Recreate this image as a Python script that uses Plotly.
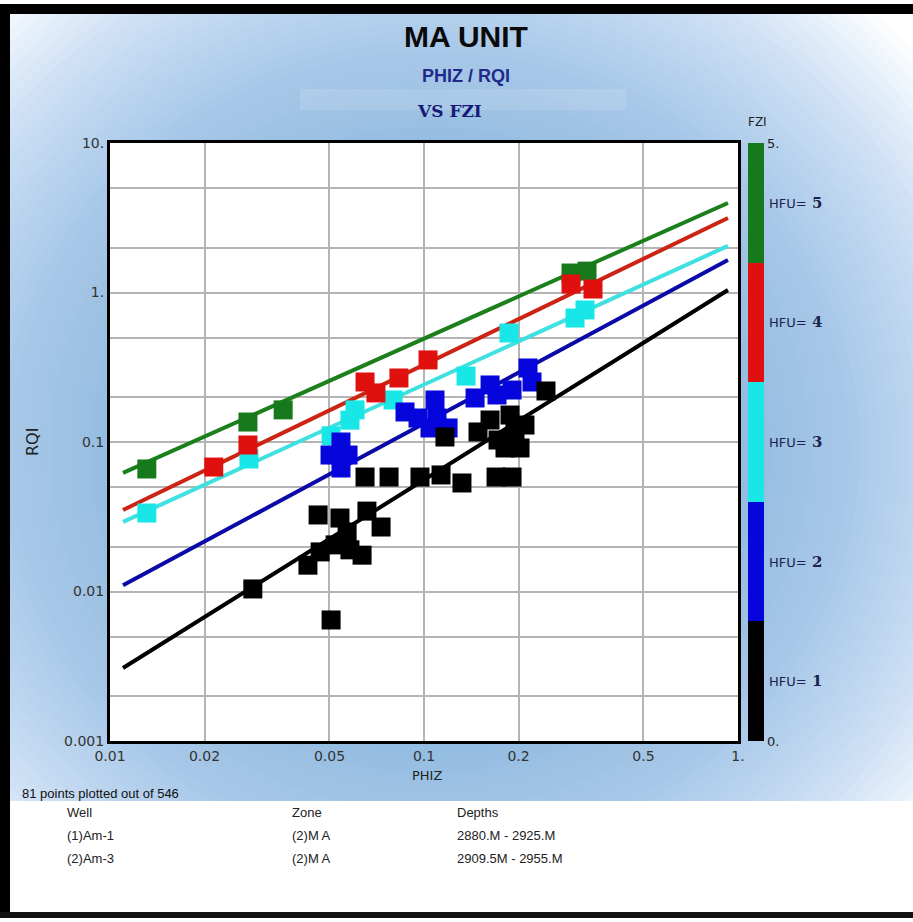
import plotly.graph_objects as go

# ---------------- DATA ----------------
fzi_range = [0, 5]
hfu_classes = [1, 2, 3, 4, 5]
hfu_fzi_mid = [0.5, 1.5, 2.5, 3.5, 4.5]

# HFU = 1 (black)
phiz_hfu1 = [0.0285, 0.0506, 0.0460, 0.0540, 0.0569, 0.0658, 0.0730, 0.0427, 0.0467,
             0.0521, 0.0581, 0.0635, 0.0649, 0.0774, 0.0971, 0.1133, 0.1321, 0.1696,
             0.1907, 0.1166, 0.1486, 0.1623, 0.1721, 0.1879, 0.1949, 0.2022, 0.1811,
             0.2097, 0.2446]
rqi_hfu1 = [0.0104, 0.00645, 0.0325, 0.0310, 0.0250, 0.0345, 0.0270, 0.0150, 0.0184,
            0.0205, 0.0190, 0.0175, 0.0583, 0.0583, 0.0583, 0.0602, 0.0532, 0.0583,
            0.0583, 0.1080, 0.1167, 0.1403, 0.1031, 0.1515, 0.1203, 0.0912, 0.0912,
            0.1299, 0.2194]

# HFU = 2 (blue)
phiz_hfu2 = [0.0544, 0.0502, 0.0573, 0.0544, 0.0870, 0.0957, 0.1084, 0.1100, 0.1193,
             0.1045, 0.1454, 0.1623, 0.1708, 0.1907, 0.2144, 0.2208]
rqi_hfu2 = [0.100, 0.0818, 0.0818, 0.0670, 0.1588, 0.1447, 0.1910, 0.1447, 0.1241,
            0.1241, 0.1970, 0.2407, 0.2063, 0.2227, 0.3126, 0.2520]

# HFU = 3 (cyan)
phiz_hfu3 = [0.0131, 0.0277, 0.0506, 0.0581, 0.0603, 0.0797, 0.1361, 0.1865, 0.3027, 0.3256]
rqi_hfu3 = [0.0335, 0.0770, 0.1100, 0.1400, 0.1640, 0.1910, 0.2760, 0.5360, 0.6750, 0.7640]

# HFU = 4 (red)
phiz_hfu4 = [0.0214, 0.0275, 0.0649, 0.0703, 0.0832, 0.1030, 0.2939, 0.3453]
rqi_hfu4 = [0.0680, 0.0955, 0.2520, 0.2130, 0.2680, 0.3540, 1.140, 1.055]

# HFU = 5 (green)
phiz_hfu5 = [0.0131, 0.0275, 0.0356, 0.2939, 0.3305]
rqi_hfu5 = [0.0660, 0.1360, 0.1640, 1.350, 1.390]

# FZI boundary lines (start / end)
line_phiz = [0.0110, 0.929]
line_rqi_hfu1 = [0.00308, 1.04]
line_rqi_hfu2 = [0.0110, 1.65]
line_rqi_hfu3 = [0.0292, 2.05]
line_rqi_hfu4 = [0.0351, 3.15]
line_rqi_hfu5 = [0.0621, 3.97]

x_tick_vals = [0.01, 0.02, 0.05, 0.1, 0.2, 0.5, 1]
x_tick_text = ["0.01", "0.02", "0.05", "0.1", "0.2", "0.5", "1."]
y_tick_vals = [0.001, 0.002, 0.005, 0.01, 0.02, 0.05, 0.1, 0.2, 0.5, 1, 2, 5, 10]
y_tick_text = ["0.001", "", "", "0.01", "", "", "0.1", "", "", "1.", "", "", "10."]

wells = ["(1)Am-1", "(2)Am-3"]
zones = ["(2)M A", "(2)M A"]
depths = ["2880.M - 2925.M", "2909.5M - 2955.M"]
points_plotted = 81
points_total = 546

# ---------------- STYLE ----------------
W, H = 913, 922
PL, PR, PT, PB = 110, 738, 143, 741


def X(px):
    return (px - PL) / (PR - PL)


def Y(py):
    return (PB - py) / (PB - PT)


marker_colors = ["#000000", "#0505dc", "#19e6e6", "#e0100f", "#167a1c"]
line_colors = ["#000000", "#0a0aa8", "#3fe0e0", "#cc2414", "#1b7f1b"]
colorscale = []
for i, c in enumerate(marker_colors):
    colorscale.append([i / 5, c])
    colorscale.append([(i + 1) / 5, c])

series = [
    (phiz_hfu1, rqi_hfu1, line_rqi_hfu1),
    (phiz_hfu2, rqi_hfu2, line_rqi_hfu2),
    (phiz_hfu3, rqi_hfu3, line_rqi_hfu3),
    (phiz_hfu4, rqi_hfu4, line_rqi_hfu4),
    (phiz_hfu5, rqi_hfu5, line_rqi_hfu5),
]

fig = go.Figure()

# lines
for k, (px_, py_, lr) in enumerate(series):
    fig.add_trace(go.Scatter(x=line_phiz, y=lr, mode="lines",
                             line=dict(color=line_colors[k], width=4),
                             hoverinfo="skip", showlegend=False))

# markers (draw order: green, cyan, red, blue, black)
for k in [4, 2, 3, 1, 0]:
    px_, py_, _ = series[k]
    fig.add_trace(go.Scatter(
        x=px_, y=py_, mode="markers",
        marker=dict(symbol="square", size=19,
                    color=[hfu_fzi_mid[k]] * len(px_), coloraxis="coloraxis",
                    line=dict(width=0)),
        showlegend=False))

shapes = []
# background radial-ish gradient
cx, cy = 430, 450
for i in range(40):
    r = 640 - i * 10
    shapes.append(dict(type="circle", xref="paper", yref="paper", layer="below",
                       x0=X(cx - r), x1=X(cx + r), y0=Y(cy + r * 0.95), y1=Y(cy - r * 0.95),
                       fillcolor="rgba(110,160,232,0.034)", line=dict(width=0)))
# white plot area
shapes.append(dict(type="rect", xref="paper", yref="paper", layer="below",
                   x0=0, x1=1, y0=0, y1=1, fillcolor="white", line=dict(width=0)))
# light box behind VS FZI
shapes.append(dict(type="rect", xref="paper", yref="paper", layer="below",
                   x0=X(300), x1=X(626), y0=Y(110), y1=Y(89),
                   fillcolor="rgba(255,255,255,0.12)", line=dict(width=0)))
# white bottom table area
shapes.append(dict(type="rect", xref="paper", yref="paper", layer="below",
                   x0=X(0), x1=X(913), y0=Y(922), y1=Y(801),
                   fillcolor="white", line=dict(width=0)))
# white top strip
shapes.append(dict(type="rect", xref="paper", yref="paper", layer="below",
                   x0=X(0), x1=X(913), y0=Y(4), y1=Y(0),
                   fillcolor="white", line=dict(width=0)))
# black frame pieces
shapes.append(dict(type="rect", xref="paper", yref="paper", layer="above",
                   x0=X(0), x1=X(10), y0=Y(918), y1=Y(4),
                   fillcolor="black", line=dict(width=0)))
shapes.append(dict(type="rect", xref="paper", yref="paper", layer="above",
                   x0=X(0), x1=X(913), y0=Y(14), y1=Y(4),
                   fillcolor="black", line=dict(width=0)))
shapes.append(dict(type="rect", xref="paper", yref="paper", layer="above",
                   x0=X(0), x1=X(913), y0=Y(918), y1=Y(912),
                   fillcolor="#111111", line=dict(width=0)))

ann = []


def txt(text, px, py, size, color="#222", family="Liberation Sans", xanchor="center",
        weight="normal", angle=0):
    ann.append(dict(text=text, x=X(px), y=Y(py), xref="paper", yref="paper",
                    showarrow=False, xanchor=xanchor, yanchor="middle", textangle=angle,
                    font=dict(size=size, color=color, family=family, weight=weight)))


txt("MA UNIT", 466, 37, 30, "#0a0a0a", weight="bold")
txt("PHIZ / RQI", 466, 76, 18, "#1f2a8a", weight="bold")
txt("VS FZI", 449, 111, 17, "#151a78", family="DejaVu Serif", weight="bold")
txt("FZI", 757, 122, 12, "#222", family="DejaVu Sans")
txt("RQI", 32, 442, 16, "#222", family="DejaVu Sans", angle=-90)
txt("PHIZ", 427, 775, 13, "#222", family="DejaVu Sans")
txt(f"{points_plotted} points plotted out of {points_total}", 20, 793, 13, "#111",
    family="Liberation Sans", xanchor="left")
txt("Well", 65, 812, 13, "#222", xanchor="left")
txt("Zone", 290, 812, 13, "#222", xanchor="left")
txt("Depths", 455, 812, 13, "#222", xanchor="left")
for r in range(len(wells)):
    yy = 835 + 23 * r
    txt(wells[r], 65, yy, 13, "#222", xanchor="left")
    txt(zones[r], 290, yy, 13, "#222", xanchor="left")
    txt(depths[r], 455, yy, 13, "#222", xanchor="left")

# HFU labels next to colorbar
for k, h in enumerate(hfu_classes):
    frac = (hfu_fzi_mid[k] - fzi_range[0]) / (fzi_range[1] - fzi_range[0])
    ann.append(dict(
        text=f"HFU=<span style='font-family:DejaVu Serif;font-size:15px;font-weight:bold'> {h}</span>",
        x=X(767), y=frac, xref="paper", yref="paper", showarrow=False,
        xanchor="left", yanchor="middle",
        font=dict(size=13, color="#1b2350", family="DejaVu Sans")))

fig.update_layout(
    width=W, height=H,
    margin=dict(l=PL, r=W - PR, t=PT, b=H - PB, pad=0),
    paper_bgcolor="white",
    plot_bgcolor="rgba(0,0,0,0)",
    showlegend=False,
    shapes=shapes,
    annotations=ann,
    coloraxis=dict(
        colorscale=colorscale, cmin=fzi_range[0], cmax=fzi_range[1],
        colorbar=dict(x=X(748), xanchor="left", xpad=0, y=0.5, yanchor="middle",
                      len=1, lenmode="fraction", ypad=0, thickness=16,
                      outlinewidth=0, tickvals=fzi_range,
                      ticktext=[f"{v}." for v in fzi_range], ticks="",
                      tickfont=dict(size=13, family="DejaVu Sans", color="#222"))),
    xaxis=dict(type="log", range=[-2, 0], tickvals=x_tick_vals, ticktext=x_tick_text,
               showgrid=True, gridcolor="#b4b4b4", gridwidth=1.5, zeroline=False,
               showline=True, linecolor="black", linewidth=3, mirror=True,
               ticks="", tickfont=dict(size=14, family="DejaVu Sans", color="#333")),
    yaxis=dict(type="log", range=[-3, 1], tickvals=y_tick_vals, ticktext=y_tick_text,
               showgrid=True, gridcolor="#b4b4b4", gridwidth=1.5, zeroline=False,
               showline=True, linecolor="black", linewidth=3, mirror=True,
               ticks="", tickfont=dict(size=14, family="DejaVu Sans", color="#333")),
)

fig.write_html("out.html", config={"displayModeBar": False},
               post_script="document.body.style.margin='0px';document.body.style.overflow='hidden';")
